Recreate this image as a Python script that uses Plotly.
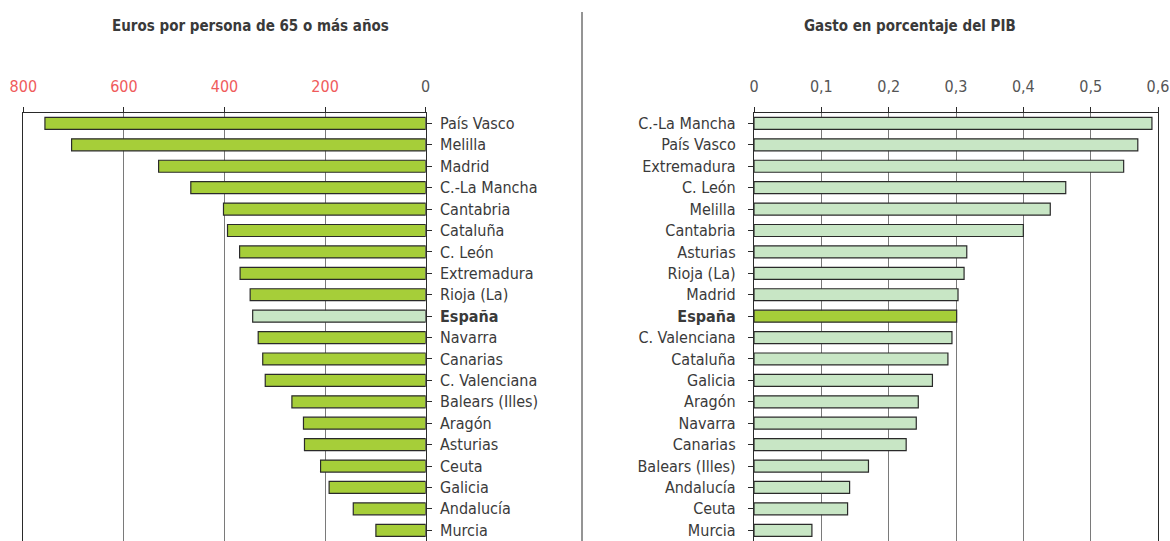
"""Gasto regional: euros por persona de 65+ años y gasto en % del PIB."""

import plotly.graph_objects as go
from plotly.subplots import make_subplots

# Left panel: euros per person aged 65+ (sorted, top to bottom)
EUR_REGIONS = [
	'País Vasco', 'Melilla', 'Madrid', 'C.-La Mancha', 'Cantabria', 'Cataluña',
	'C. León', 'Extremadura', 'Rioja (La)', 'España', 'Navarra', 'Canarias',
	'C. Valenciana', 'Balears (Illes)', 'Aragón', 'Asturias', 'Ceuta',
	'Galicia', 'Andalucía', 'Murcia',
]
EUR_VALUES = [757, 704, 531, 467, 402, 394, 370, 369, 349, 344, 333, 324,
	319, 266, 243, 241, 209, 192, 144, 99]
EUR_TICKS = [800, 600, 400, 200, 0]

# Right panel: spending as % of GDP
PIB_REGIONS = [
	'C.-La Mancha', 'País Vasco', 'Extremadura', 'C. León', 'Melilla',
	'Cantabria', 'Asturias', 'Rioja (La)', 'Madrid', 'España', 'C. Valenciana',
	'Cataluña', 'Galicia', 'Aragón', 'Navarra', 'Canarias', 'Balears (Illes)',
	'Andalucía', 'Ceuta', 'Murcia',
]
PIB_VALUES = [0.591, 0.570, 0.549, 0.463, 0.440, 0.400, 0.316, 0.312, 0.303,
	0.301, 0.294, 0.288, 0.265, 0.244, 0.241, 0.226, 0.170, 0.142, 0.139, 0.086]
PIB_TICKS = [0, 0.1, 0.2, 0.3, 0.4, 0.5, 0.6]

DARK_GREEN = '#a6ce39'
LIGHT_GREEN = '#c8e6c5'
FONT = 'Liberation Sans Narrow, DejaVu Sans Condensed, Roboto, sans-serif'
TEXT = '#3a3a3a'
GRID = '#7a7a7a'
AXIS = '#2a2a2a'

# body margin is zeroed in the page (see write_html), so the figure fills
# the 1170x541 window and positions below are plain window pixels
W, H = 1170, 541


def px_x(x):
	return x / W


def px_y(y):
	return 1 - y / H


def _labels(regions):
	return [f'<b>{r}</b>' if r == 'España' else r for r in regions]


def _colors(regions, main, highlight):
	return [highlight if r == 'España' else main for r in regions]


fig = make_subplots(rows=1, cols=2)

fig.add_trace(go.Bar(
	x=EUR_VALUES, y=list(range(len(EUR_REGIONS))), orientation='h',
	width=0.56,
	marker=dict(color=_colors(EUR_REGIONS, DARK_GREEN, LIGHT_GREEN),
		line=dict(color=AXIS, width=1.2)),
), row=1, col=1)

fig.add_trace(go.Bar(
	x=PIB_VALUES, y=list(range(len(PIB_REGIONS))), orientation='h',
	width=0.56,
	marker=dict(color=_colors(PIB_REGIONS, LIGHT_GREEN, DARK_GREEN),
		line=dict(color=AXIS, width=1.2)),
), row=1, col=2)

common_x = dict(side='top', showline=True, linecolor=AXIS, linewidth=1.2,
	ticks='outside', ticklen=5, tickcolor=AXIS, showgrid=True,
	gridcolor=GRID, gridwidth=1, zeroline=False, ticklabelstandoff=8,
	automargin=False)
common_y = dict(showline=True, mirror=True, linecolor=AXIS, linewidth=1.2,
	ticks='outside', ticklen=5, tickcolor=AXIS, tickson='boundaries',
	showgrid=False, zeroline=False, range=[19.5, -0.5],
	domain=[0, px_y(112.7)],
	tickfont=dict(size=16, color=TEXT), automargin=False)

fig.update_xaxes(common_x, range=[800, 0], tickvals=EUR_TICKS,
	ticktext=[f'<span style="color:{"#555555" if t == 0 else "#ef5b5b"}">{t}</span>'
		for t in EUR_TICKS],
	domain=[px_x(23.3), px_x(425.7)], tickfont=dict(size=16, color='#ef5b5b'),
	row=1, col=1)
fig.update_xaxes(common_x, range=[0, 0.6], tickvals=PIB_TICKS,
	ticktext=[f'{t:g}'.replace('.', ',') for t in PIB_TICKS],
	domain=[px_x(754), px_x(1158)], tickfont=dict(size=16, color='#555555'),
	row=1, col=2)

fig.update_yaxes(common_y, side='right', tickvals=list(range(len(EUR_REGIONS))),
	ticktext=_labels(EUR_REGIONS), ticklabelstandoff=5, row=1, col=1)
fig.update_yaxes(common_y, side='left', tickvals=list(range(len(PIB_REGIONS))),
	ticktext=_labels(PIB_REGIONS), ticklabelstandoff=9, row=1, col=2)

title_font = dict(family=FONT, size=15, color=TEXT)
fig.add_annotation(text='<b>Euros por persona de 65 o más años</b>',
	x=px_x(251), y=px_y(26), xref='paper', yref='paper', showarrow=False,
	font=title_font, xanchor='center', yanchor='middle')
fig.add_annotation(text='<b>Gasto en porcentaje del PIB</b>',
	x=px_x(910), y=px_y(26), xref='paper', yref='paper', showarrow=False,
	font=title_font, xanchor='center', yanchor='middle')

# divider between the two panels
fig.add_shape(type='line', xref='paper', yref='paper',
	x0=px_x(582), x1=px_x(582), y0=0, y1=px_y(12),
	line=dict(color=AXIS, width=1))

fig.update_layout(
	width=W, height=H,
	margin=dict(l=0, r=0, t=0, b=0),
	paper_bgcolor='white', plot_bgcolor='white',
	showlegend=False, bargap=0.44,
	font=dict(family=FONT, color=TEXT),
)

fig.write_html('out.html', config={'displayModeBar': False},
	post_script="document.body.style.margin = '0px';")
